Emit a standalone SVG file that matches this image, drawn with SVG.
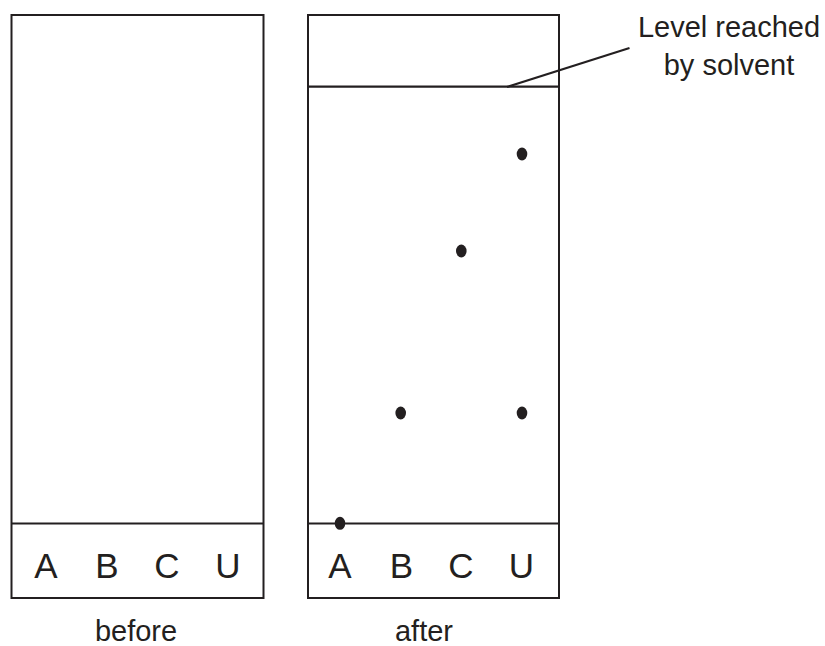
<svg xmlns="http://www.w3.org/2000/svg" width="825" height="646" viewBox="0 0 825 646">
<style>
.box{fill:none;stroke:#231f20;stroke-width:2}
.ln{stroke:#231f20;stroke-width:2.2;fill:none}
.lab{font-family:"Liberation Sans",Arial,sans-serif;font-size:35px;fill:#231f20;text-anchor:middle}
.cap{font-family:"Liberation Sans",Arial,sans-serif;font-size:29px;fill:#231f20;text-anchor:middle}
.dot{fill:#231f20}
</style>
<rect width="825" height="646" fill="#fff"/>
<g id="before-plate">
<rect class="box" x="11.5" y="15" width="252" height="583"/>
<line class="ln" x1="11.5" y1="523.5" x2="263.5" y2="523.5"/>
<text class="lab" x="46" y="577.5">A</text>
<text class="lab" x="107" y="577.5">B</text>
<text class="lab" x="167" y="577.5">C</text>
<text class="lab" x="228" y="577.5">U</text>
<text class="cap" x="136" y="641">before</text>
</g>
<g id="after-plate">
<rect class="box" x="308" y="15" width="251" height="583"/>
<line class="ln" x1="308" y1="523.5" x2="559" y2="523.5"/>
<line class="ln" x1="308" y1="86.7" x2="559" y2="86.7"/>
<text class="lab" x="340" y="577.5">A</text>
<text class="lab" x="401.5" y="577.5">B</text>
<text class="lab" x="461" y="577.5">C</text>
<text class="lab" x="521.5" y="577.5">U</text>
<text class="cap" x="424" y="641">after</text>
</g>
<g id="spots">
<ellipse class="dot" cx="340" cy="523.3" rx="5.3" ry="6.5"/>
<ellipse class="dot" cx="400.7" cy="413" rx="5.3" ry="6.5"/>
<ellipse class="dot" cx="461.3" cy="251" rx="5.3" ry="6.5"/>
<ellipse class="dot" cx="522" cy="413" rx="5.3" ry="6.5"/>
<ellipse class="dot" cx="522" cy="154" rx="5.3" ry="6.5"/>
</g>
<g id="connectors">
<line class="ln" x1="507" y1="87" x2="629.5" y2="48"/>
</g>
<g id="solvent-label">
<text class="cap" x="729" y="37">Level reached</text>
<text class="cap" x="729" y="75">by solvent</text>
</g>
</svg>
